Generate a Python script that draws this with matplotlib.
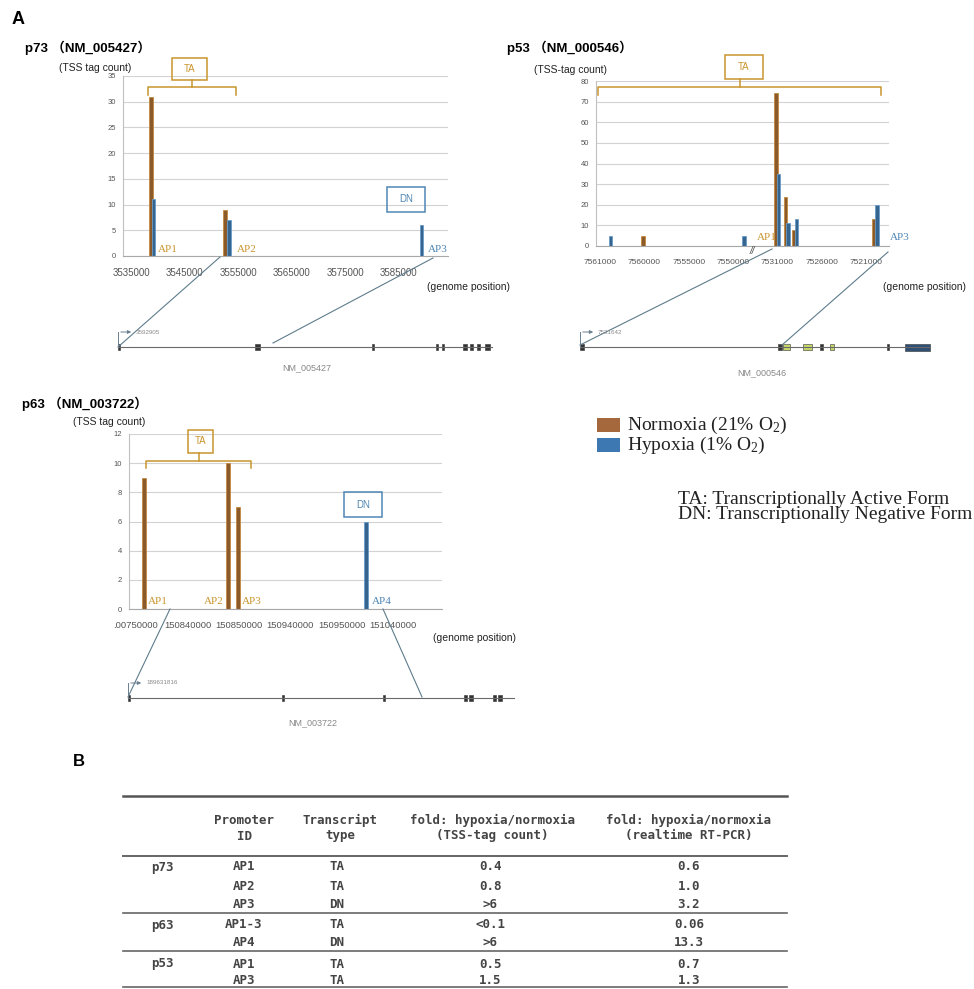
import numpy as np
import matplotlib.pyplot as plt
from matplotlib.patches import Rectangle

W, H = 974, 989

# ---------------- data ----------------
# p73 : genome coordinates
p73_ticks = ['3535000', '3545000', '3555000', '3565000', '3575000', '3585000']
p73_norm_pos = [3538700, 3552600]
p73_norm_val = [31, 9]
p73_hyp_pos = [3539200, 3553300, 3589200]
p73_hyp_val = [11, 7, 6]

# p53 : broken, reversed axis -> positions in tick units
p53_ticks = ['7561000', '7560000', '7555000', '7550000', '7531000', '7526000', '7521000']
p53_norm_pos = [0.97, 3.97, 4.18, 4.38, 6.18]
p53_norm_val = [5, 74, 24, 8, 13]
p53_hyp_pos = [0.23, 3.25, 4.03, 4.24, 4.43, 6.25]
p53_hyp_val = [5, 5, 35, 11, 13, 20]

# p63 : positions in tick units
p63_ticks = ['.00750000', '150840000', '150850000', '150940000', '150950000', '151040000']
p63_norm_pos = [0.16, 1.79, 1.99]
p63_norm_val = [9, 10, 7]
p63_hyp_pos = [4.47]
p63_hyp_val = [6]

# exon models (fraction along the drawn transcript)
p73_exons = [(0.0, 0.006), (0.366, 0.38), (0.679, 0.685), (0.85, 0.856), (0.866, 0.872),
             (0.922, 0.933), (0.941, 0.949), (0.96, 0.968), (0.981, 0.995)]
p53_exons = [(0.0, 0.012), (0.566, 0.577), (0.58, 0.6), (0.637, 0.663), (0.686, 0.694),
             (0.714, 0.726), (0.877, 0.883), (0.929, 1.0)]
p53_exon_col = ['#333', '#333', '#c6d66a', '#c6d66a', '#333', '#c6d66a', '#333', '#2f4f75']
p63_exons = [(0.0, 0.006), (0.399, 0.404), (0.661, 0.666), (0.87, 0.878), (0.883, 0.893),
             (0.946, 0.953), (0.959, 0.969)]

# table B
tab_gene = ['p73', '', '', 'p63', '', 'p53', '']
tab_promoter = ['AP1', 'AP2', 'AP3', 'AP1-3', 'AP4', 'AP1', 'AP3']
tab_type = ['TA', 'TA', 'DN', 'TA', 'DN', 'TA', 'TA']
tab_fold_tss = ['0.4', '0.8', '>6', '<0.1', '>6', '0.5', '1.5']
tab_fold_pcr = ['0.6', '1.0', '3.2', '0.06', '13.3', '0.7', '1.3']

NORM = '#8b5a2b'
NORM_E = '#c48a3f'
HYP = '#35658f'
HYP_E = '#6a9cc8'
ORANGE = '#c9952e'
BLUE = '#4f86b5'
SANS = ['Liberation Sans', 'Noto Sans CJK JP']

fig = plt.figure(figsize=(W / 100, H / 100), dpi=100)
fig.patch.set_facecolor('white')


def px_axes(x0, y0, x1, y1):
    return fig.add_axes([x0 / W, 1 - y1 / H, (x1 - x0) / W, (y1 - y0) / H])


def style(ax, ymax, ystep, tpos, tlab, xlim, xsize):
    ax.set_ylim(0, ymax)
    ax.set_xlim(*xlim)
    ax.set_yticks(np.arange(0, ymax + 1, ystep))
    ax.set_xticks(tpos)
    ax.set_xticklabels(tlab, family='Liberation Sans')
    ax.grid(axis='y', color='#d2d2d2', lw=0.8)
    ax.set_axisbelow(True)
    for s in ['top', 'right']:
        ax.spines[s].set_visible(False)
    ax.spines['left'].set_color('#c0c0c0')
    ax.spines['bottom'].set_color('#a8a8a8')
    ax.tick_params(axis='x', length=0, pad=9, labelsize=xsize, labelcolor='#555')
    ax.tick_params(axis='y', length=0, pad=5, labelsize=5.5, labelcolor='#555')
    for t in ax.get_yticklabels():
        t.set_family('Liberation Sans')
    ax.patch.set_alpha(0)


# p73 chart
ax1 = px_axes(123, 76, 448, 256)
ax1.bar(p73_norm_pos, p73_norm_val, width=700, color=NORM, edgecolor=NORM_E, lw=0.6)
ax1.bar(p73_hyp_pos, p73_hyp_val, width=700, color=HYP, edgecolor=HYP_E, lw=0.6)
style(ax1, 35, 5, np.arange(3535000, 3585001, 10000), p73_ticks, (3533507, 3594142), 7)

# p53 chart
ax2 = px_axes(596, 81, 889, 246)
ax2.bar(p53_norm_pos, p53_norm_val, width=0.075, color=NORM, edgecolor=NORM_E, lw=0.6)
ax2.bar(p53_hyp_pos, p53_hyp_val, width=0.075, color=HYP, edgecolor=HYP_E, lw=0.6)
style(ax2, 80, 10, np.arange(len(p53_ticks)), p53_ticks, (-0.09, 6.52), 6)

# p63 chart
ax3 = px_axes(129, 434, 442, 609)
ax3.bar(p63_norm_pos, p63_norm_val, width=0.078, color=NORM, edgecolor=NORM_E, lw=0.6)
ax3.bar(p63_hyp_pos, p63_hyp_val, width=0.078, color=HYP, edgecolor=HYP_E, lw=0.6)
style(ax3, 12, 2, np.arange(len(p63_ticks)), p63_ticks, (-0.136, 5.95), 6.8)

# overlay in pixel coordinates
ov = fig.add_axes([0, 0, 1, 1])
ov.set_xlim(0, W)
ov.set_ylim(H, 0)
ov.axis('off')
ov.patch.set_alpha(0)


def txt(x, y, s, **kw):
    kw.setdefault('va', 'center')
    ov.text(x, y, s, **kw)


def box(x0, y0, x1, y1, label, col):
    ov.add_patch(Rectangle((x0, y0), x1 - x0, y1 - y0, fill=False, ec=col, lw=1.1))
    txt((x0 + x1) / 2, (y0 + y1) / 2, label, ha='center', fontsize=7, color=col,
        family='Liberation Sans')


def bracket(x0, x1, y, ytip, ydrop, col=ORANGE):
    ov.plot([x0, x0, x1, x1], [ydrop, y, y, ydrop], color=col, lw=1.1)
    xm = (x0 + x1) / 2
    ov.plot([xm, xm], [y, ytip], color=col, lw=1.1)


def gene(x0, x1, y, exons, cols=None, label='', lx=0, ly=0, tss=''):
    ov.plot([x0, x1], [y, y], color='#6a6a6a', lw=0.8)
    L = x1 - x0
    for i, (a, b) in enumerate(exons):
        c = cols[i] if cols else '#333'
        hh = 7 if (b - a) * L > 15 else 6
        ov.add_patch(Rectangle((x0 + a * L, y - hh / 2), max((b - a) * L, 1.6), hh,
                               fc=c, ec='#333', lw=0.4))
    ov.plot([x0, x0], [y, y - 15], color='#6a7f8f', lw=0.7)
    ov.annotate('', xy=(x0 + 16, y - 15), xytext=(x0, y - 15),
                arrowprops=dict(arrowstyle='-|>', color='#6a7f8f', lw=0.7, mutation_scale=5))
    txt(x0 + 18, y - 15, tss, fontsize=4.5, color='#888', family='Liberation Sans')
    txt(lx, ly, label, ha='center', fontsize=6.5, color='#888', family='Liberation Sans')


def zoomline(p, q):
    ov.plot([p[0], q[0]], [p[1], q[1]], color='#5e7c8c', lw=0.8)


# panel letters and titles
txt(12, 20, 'A', fontsize=13, weight='bold', family=SANS)
txt(73, 762, 'B', fontsize=12, weight='bold', family=SANS)
txt(25, 48, 'p73 （NM_005427）', fontsize=9.5, weight='bold', family=SANS)
txt(507, 48, 'p53 （NM_000546）', fontsize=9.5, weight='bold', family=SANS)
txt(22, 404, 'p63 （NM_003722）', fontsize=9.5, weight='bold', family=SANS)
txt(95, 68, '(TSS tag count)', ha='center', fontsize=7.5, family='Liberation Sans', color='#222')
txt(571, 70, '(TSS-tag count)', ha='center', fontsize=7.5, family='Liberation Sans', color='#222')
txt(109, 422, '(TSS tag count)', ha='center', fontsize=7.5, family='Liberation Sans', color='#222')
txt(427, 287, '(genome position)', fontsize=7.5, family='Liberation Sans', color='#222')
txt(883, 287, '(genome position)', fontsize=7.5, family='Liberation Sans', color='#222')
txt(433, 638, '(genome position)', fontsize=7.5, family='Liberation Sans', color='#222')

# p73 annotations
box(172, 58, 207, 80, 'TA', ORANGE)
bracket(148, 236, 87, 80, 95)
box(387, 187, 425, 212, 'DN', BLUE)
txt(158, 250, 'AP1', fontsize=8, color=ORANGE, family='Liberation Serif')
txt(237, 250, 'AP2', fontsize=8, color=ORANGE, family='Liberation Serif')
txt(428, 250, 'AP3', fontsize=8, color=BLUE, family='Liberation Serif')
zoomline((220, 257), (118, 347))
zoomline((433, 258), (273, 343))
gene(118, 492, 347, p73_exons, label='NM_005427', lx=307, ly=368, tss='3592905')

# p53 annotations
box(725, 55, 763, 79, 'TA', ORANGE)
bracket(598, 881, 87, 79, 95)
txt(757, 237, 'AP1', fontsize=8, color=ORANGE, family='Liberation Serif')
txt(890, 237, 'AP3', fontsize=8, color=BLUE, family='Liberation Serif')
txt(752, 251, '//', ha='center', fontsize=7, style='italic', color='#444', family='Liberation Sans')
zoomline((772, 249), (580, 345))
zoomline((888, 252), (782, 345))
gene(580, 930, 347, p53_exons, cols=p53_exon_col, label='NM_000546', lx=762, ly=373,
     tss='7531642')

# p63 annotations
box(188, 430, 213, 453, 'TA', ORANGE)
bracket(146, 251, 461, 453, 468)
box(344, 492, 382, 517, 'DN', BLUE)
txt(158, 602, 'AP1', ha='center', fontsize=8, color=ORANGE, family='Liberation Serif')
txt(214, 602, 'AP2', ha='center', fontsize=8, color=ORANGE, family='Liberation Serif')
txt(252, 602, 'AP3', ha='center', fontsize=8, color=ORANGE, family='Liberation Serif')
txt(382, 602, 'AP4', ha='center', fontsize=8, color=BLUE, family='Liberation Serif')
zoomline((170, 609), (128, 697))
zoomline((383, 609), (422, 697))
gene(128, 514, 698, p63_exons, label='NM_003722', lx=313, ly=723, tss='189631816')

# legend
ov.add_patch(Rectangle((597, 418), 23, 14, fc='#a5683c', ec='none'))
ov.add_patch(Rectangle((597, 438), 23, 14, fc='#3e78b2', ec='none'))
txt(627, 425, r'Normoxia (21% $\mathregular{O_2}$)', fontsize=14, family='Liberation Serif', color='#222')
txt(627, 445, r'Hypoxia (1% $\mathregular{O_2}$)', fontsize=14, family='Liberation Serif', color='#222')
txt(678, 507, 'TA: Transcriptionally Active Form\nDN: Transcriptionally Negative Form',
    fontsize=14, family='Liberation Serif', color='#222', linespacing=0.78)

# table B
TF = dict(fontsize=9, family='DejaVu Sans Mono', weight='bold', color='#444', ha='center')
ov.plot([123, 787], [796, 796], color='#555', lw=1.8)
ov.plot([123, 787], [856, 856], color='#666', lw=1.4)
ov.plot([123, 787], [913, 913], color='#666', lw=1.2)
ov.plot([123, 787], [951, 951], color='#666', lw=1.2)
ov.plot([123, 787], [987, 987], color='#666', lw=1.2)
txt(244, 820, 'Promoter', **TF)
txt(244, 836, 'ID', **TF)
txt(340, 820, 'Transcript', **TF)
txt(340, 836, 'type', **TF)
txt(492, 820, 'fold: hypoxia/normoxia', **TF)
txt(492, 836, '(TSS-tag count)', **TF)
txt(689, 820, 'fold: hypoxia/normoxia', **TF)
txt(689, 836, '(realtime RT-PCR)', **TF)
row_y = [867, 886, 904, 925, 943, 964, 980]
for i, y in enumerate(row_y):
    txt(162, y, tab_gene[i], **TF)
    txt(244, y, tab_promoter[i], **TF)
    txt(337, y, tab_type[i], **TF)
    txt(490, y, tab_fold_tss[i], **TF)
    txt(689, y, tab_fold_pcr[i], **TF)

fig.savefig('out.png', dpi=100, facecolor='white')
